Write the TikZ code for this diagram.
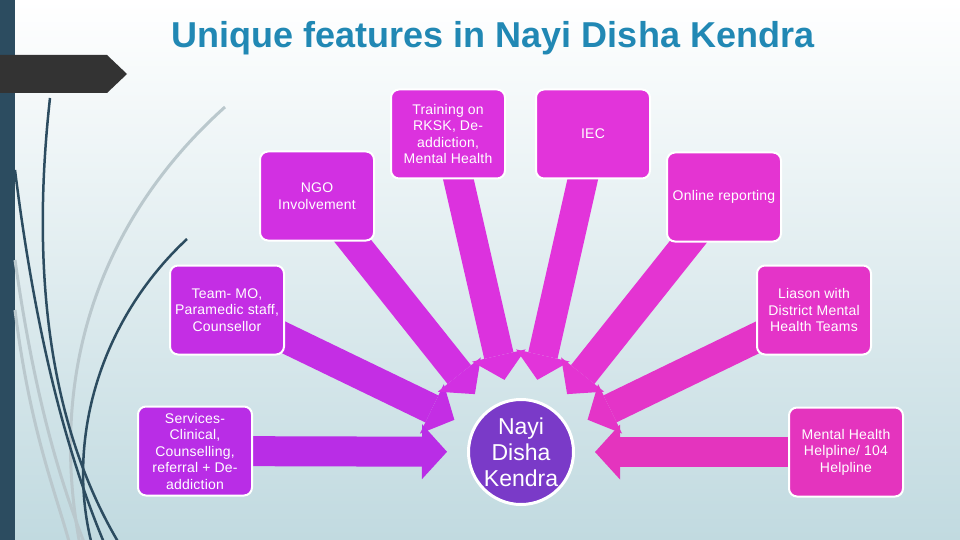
\documentclass[tikz,border=0pt]{standalone}
\usepackage{fontspec}
\setmainfont{Liberation Sans}
\newfontfamily\boxfont[LetterSpace=1.5]{Liberation Sans}
\usetikzlibrary{arrows.meta}
\definecolor{bgblue}{RGB}{193,218,224}
\definecolor{barslate}{RGB}{44,76,96}
\definecolor{tabgray}{RGB}{51,51,51}
\definecolor{curvegray}{RGB}{186,200,205}
\definecolor{titleblue}{RGB}{33,136,180}
\definecolor{colsvc}{RGB}{185,45,230}
\definecolor{colteam}{RGB}{196,46,228}
\definecolor{colngo}{RGB}{210,48,226}
\definecolor{coltrain}{RGB}{220,50,222}
\definecolor{coliec}{RGB}{226,52,218}
\definecolor{colonline}{RGB}{228,52,210}
\definecolor{colliason}{RGB}{228,52,200}
\definecolor{colhelp}{RGB}{228,52,190}
\definecolor{hubviolet}{RGB}{122,58,200}

\pgfdeclarelayer{background}
\pgfsetlayers{background,main}

\tikzset{
  featbox/.style={draw=white, line width=2pt, rounded corners=8pt,
    minimum width=114pt, minimum height=89pt, inner sep=2pt,
    align=center, text=white, font=\boxfont\fontsize{14}{16.5}\selectfont},
  spoke/.style={line width=30pt, shorten >=20pt,
    -{Triangle[width=55pt,length=25pt,line width=0pt]}},
  darkcurve/.style={barslate, line width=2.5pt},
  lightcurve/.style={curvegray, line width=3pt},
}

\begin{document}
\begin{tikzpicture}[x=1pt, y=-1pt]
  \useasboundingbox (0,0) rectangle (960,540);
  \begin{pgfonlayer}{background}
    % Backdrop
    \shade[top color=white, bottom color=bgblue] (0,0) rectangle (960,540);
    \fill[barslate] (0,0) rectangle (15,540);
    % Sweeping lines
    \draw[lightcurve] (225,107) .. controls (110,210) and (45,360) .. (80,545);
    \draw[lightcurve] (15,260) .. controls (35,400) and (60,480) .. (85,545);
    \draw[lightcurve] (15,310) .. controls (30,430) and (55,490) .. (70,545);
    \draw[darkcurve] (50,98) .. controls (32,260) and (45,420) .. (120,545);
    \draw[darkcurve] (15,170) .. controls (35,330) and (65,450) .. (105,545);
    \draw[darkcurve] (187,239) .. controls (100,320) and (65,440) .. (92,545);
    % Tab
    \fill[tabgray] (0,55) -- (107,55) -- (127,74) -- (107,93) -- (0,93) -- cycle;
  \end{pgfonlayer}

  % Title
  \node[anchor=base, text=titleblue, font=\bfseries\fontsize{36}{40}\selectfont] (title)
    at (493,48) {Unique features in Nayi Disha Kendra};

  % Feature boxes
  \node[featbox, fill=coltrain] (train) at (448,134) {Training on\\RKSK, De-\\addiction,\\Mental Health};
  \node[featbox, fill=coliec] (iec) at (593,134) {IEC};
  \node[featbox, fill=colngo] (ngo) at (317,196) {NGO\\Involvement};
  \node[featbox, fill=colonline] (online) at (724,197) {Online reporting};
  \node[featbox, fill=colteam] (team) at (227,310) {Team- MO,\\Paramedic staff,\\Counsellor};
  \node[featbox, fill=colliason] (liason) at (814,310) {Liason with\\District Mental\\Health Teams};
  \node[featbox, fill=colsvc] (svc) at (195,451) {Services-\\Clinical,\\Counselling,\\referral + De-\\addiction};
  \node[featbox, fill=colhelp] (helpline) at (846,452) {Mental Health\\Helpline/ 104\\Helpline};

  % Centre
  \node[circle, draw=white, line width=3pt, fill=hubviolet, minimum size=105pt, inner sep=0pt,
    text=white, align=center, font=\fontsize{23}{26}\selectfont] (hub) at (521,452) {Nayi\\Disha\\Kendra};

  % Arrows
  \begin{pgfonlayer}{background}
    \draw[spoke, colteam] (team.center) -- (hub);
    \draw[spoke, colngo] (ngo.center) -- (hub);
    \draw[spoke, coltrain] (train.center) -- (hub);
    \draw[spoke, coliec] (iec.center) -- (hub);
    \draw[spoke, colonline] (online.center) -- (hub);
    \draw[spoke, colliason] (liason.center) -- (hub);
    \draw[spoke, colsvc] (svc.center) -- (hub);
    \draw[spoke, colhelp] (helpline.center) -- (hub);
  \end{pgfonlayer}
\end{tikzpicture}
\end{document}
